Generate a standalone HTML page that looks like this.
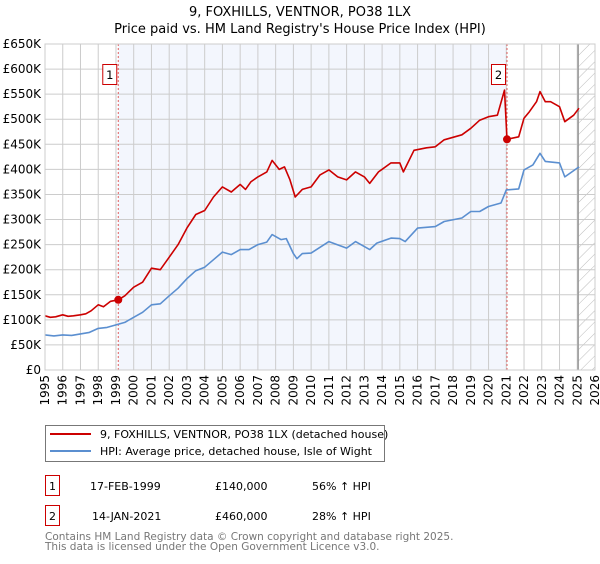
<!DOCTYPE html>
<html><head><meta charset="utf-8"><style>
body{margin:0;background:#fff;font-family:"DejaVu Sans","Liberation Sans",sans-serif;}
svg text{font-family:"DejaVu Sans","Liberation Sans",sans-serif;}
</style></head><body>
<svg id="c" width="600" height="560" viewBox="0 0 600 560">
<defs><pattern id="hatch" width="8" height="8" patternUnits="userSpaceOnUse" patternTransform="rotate(45)"><line x1="0" y1="0" x2="0" y2="8" stroke="#bbb" stroke-width="1"/></pattern></defs>
<text x="300" y="16" text-anchor="middle" font-size="13">9, FOXHILLS, VENTNOR, PO38 1LX</text>
<text x="300" y="33" text-anchor="middle" font-size="13">Price paid vs. HM Land Registry's House Price Index (HPI)</text>
<g id="plot"></g>
<g>
<rect x="45.5" y="425.5" width="339" height="36" fill="#fff" stroke="#777"/>
<line x1="50" y1="434" x2="91" y2="434" stroke="#cc0000" stroke-width="2"/>
<text x="100" y="438" font-size="11">9, FOXHILLS, VENTNOR, PO38 1LX (detached house)</text>
<line x1="50" y1="451" x2="91" y2="451" stroke="#5b8fd0" stroke-width="2"/>
<text x="100" y="455" font-size="11">HPI: Average price, detached house, Isle of Wight</text>
</g>
<g font-size="11">
<rect x="45.5" y="475.5" width="14" height="20" fill="#fff" stroke="#cc0000"/>
<text x="52.5" y="490" text-anchor="middle">1</text>
<text x="90" y="490">17-FEB-1999</text><text x="215" y="490">£140,000</text><text x="312" y="490">56% ↑ HPI</text>
<rect x="45.5" y="505.5" width="14" height="20" fill="#fff" stroke="#cc0000"/>
<text x="52.5" y="520" text-anchor="middle">2</text>
<text x="92" y="520">14-JAN-2021</text><text x="215" y="520">£460,000</text><text x="312" y="520">28% ↑ HPI</text>
</g>
<text x="45" y="540" font-size="10.5" fill="#777">Contains HM Land Registry data © Crown copyright and database right 2025.</text>
<text x="45" y="550" font-size="10.5" fill="#777">This data is licensed under the Open Government Licence v3.0.</text>
</svg>
<script>
const redT=[1995,1995.3,1995.6,1996,1996.3,1996.6,1997,1997.3,1997.6,1998,1998.3,1998.7,1999.13,1999.5,2000,2000.5,2001,2001.5,2002,2002.5,2003,2003.5,2004,2004.5,2005,2005.5,2006,2006.3,2006.6,2007,2007.5,2007.8,2008.2,2008.5,2008.8,2009.1,2009.5,2010,2010.5,2011,2011.5,2012,2012.5,2013,2013.3,2013.8,2014.5,2015,2015.2,2015.8,2016.5,2017,2017.5,2018.5,2019,2019.5,2020,2020.5,2020.9,2021.04,2021.7,2022,2022.3,2022.7,2022.9,2023.2,2023.5,2024,2024.3,2024.8,2025.1];
const redV=[108,105,106,110,107,108,110,112,118,130,126,137,140,148,165,175,203,200,225,250,283,310,318,345,365,355,370,360,375,385,395,418,400,405,380,345,360,365,389,399,385,379,395,385,372,395,413,413,395,438,443,445,459,469,482,498,505,508,558,460,465,502,515,535,555,535,535,525,495,508,522];
const blueT=[1995,1995.5,1996,1996.5,1997,1997.5,1998,1998.5,1999,1999.5,2000,2000.5,2001,2001.5,2002,2002.5,2003,2003.5,2004,2004.5,2005,2005.5,2006,2006.5,2007,2007.5,2007.8,2008.3,2008.6,2009,2009.2,2009.5,2010,2011,2012,2012.5,2013.3,2013.7,2014.5,2015,2015.3,2016,2017,2017.5,2018.5,2019,2019.5,2020,2020.7,2021,2021.7,2022,2022.5,2022.9,2023.2,2024,2024.3,2025.1];
const blueV=[70,68,70,69,72,75,83,85,90,95,105,115,130,132,148,163,182,198,205,220,235,230,240,240,250,255,270,260,262,232,222,232,233,256,243,256,240,253,263,262,256,283,286,296,303,316,316,326,333,359,361,399,409,432,416,413,385,405];
const saleT=[1999.13,2021.04];
const saleV=[140,460];
const saleLbl=["1","2"];
const yTicks=[0,50,100,150,200,250,300,350,400,450,500,550,600,650];
const xYears=[1995,1996,1997,1998,1999,2000,2001,2002,2003,2004,2005,2006,2007,2008,2009,2010,2011,2012,2013,2014,2015,2016,2017,2018,2019,2020,2021,2022,2023,2024,2025,2026];
const L=45,R=595,T=44,B=370;
const X=t=>L+(t-1995)/31*(R-L);
const Y=v=>B-v/650*(B-T);
const g=document.getElementById('plot');
const NS='http://www.w3.org/2000/svg';
function mk(tag,at,parent){const e=document.createElementNS(NS,tag);for(const k in at)e.setAttribute(k,at[k]);(parent||g).appendChild(e);return e;}
let e=mk('rect',{x:X(saleT[0]),y:T,width:X(saleT[1])-X(saleT[0]),height:B-T,fill:'#f3f6fd'});


e=mk('rect',{x:X(2025.05),y:T,width:R-X(2025.05),height:B-T,fill:'url(#hatch)'});


yTicks.forEach(v=>{
 let l=mk('line',{x1:L,x2:R,y1:Y(v),y2:Y(v),stroke:'#ccc'});
 
 
 let t=mk('text',{x:L-4,y:Y(v)+4,'text-anchor':'end','font-size':'12'});
 t.textContent=v===0?'£0':'£'+v+'K';
 
 
});
xYears.forEach(yr=>{
 let l=mk('line',{x1:X(yr),x2:X(yr),y1:T,y2:B,stroke:'#ccc'});
 
 
 let t=mk('text',{x:0,y:0,'text-anchor':'end','font-size':'12',transform:`translate(${X(yr)+4},${B+5}) rotate(-90)`});
 t.textContent=yr;
 
 
});
e=mk('line',{x1:X(2025.05),x2:X(2025.05),y1:T,y2:B,stroke:'#999','stroke-width':1.5});


saleT.forEach((t,i)=>{
 let l=mk('line',{x1:X(t),x2:X(t),y1:T,y2:B,stroke:'#e06060','stroke-dasharray':'2,2'});
 
 
});
function path(ts,vs,col,name){
 let d=ts.map((t,i)=>(i?'L':'M')+X(t).toFixed(1)+','+Y(vs[i]).toFixed(1)).join('');
 let p=mk('path',{d:d,fill:'none',stroke:col,'stroke-width':1.6,'stroke-linejoin':'round'});
 
 
}
path(blueT,blueV,'#5b8fd0','hpi-line');
path(redT,redV,'#cc0000','property-line');
mk('rect',{x:L,y:T,width:R-L,height:B-T,fill:'none',stroke:'#ccc'});
saleT.forEach((t,i)=>{
 let c=mk('circle',{cx:X(t),cy:Y(saleV[i]),r:4,fill:'#cc0000'});
 
 
 let r=mk('rect',{x:X(t)-15.5,y:64.5,width:14,height:20,fill:'#fff',stroke:'#cc0000'});
 
 
 let tx=mk('text',{x:X(t)-8.5,y:79,'text-anchor':'middle','font-size':'11.5'});
 tx.textContent=saleLbl[i];
 
 
});
</script>
</body></html>
